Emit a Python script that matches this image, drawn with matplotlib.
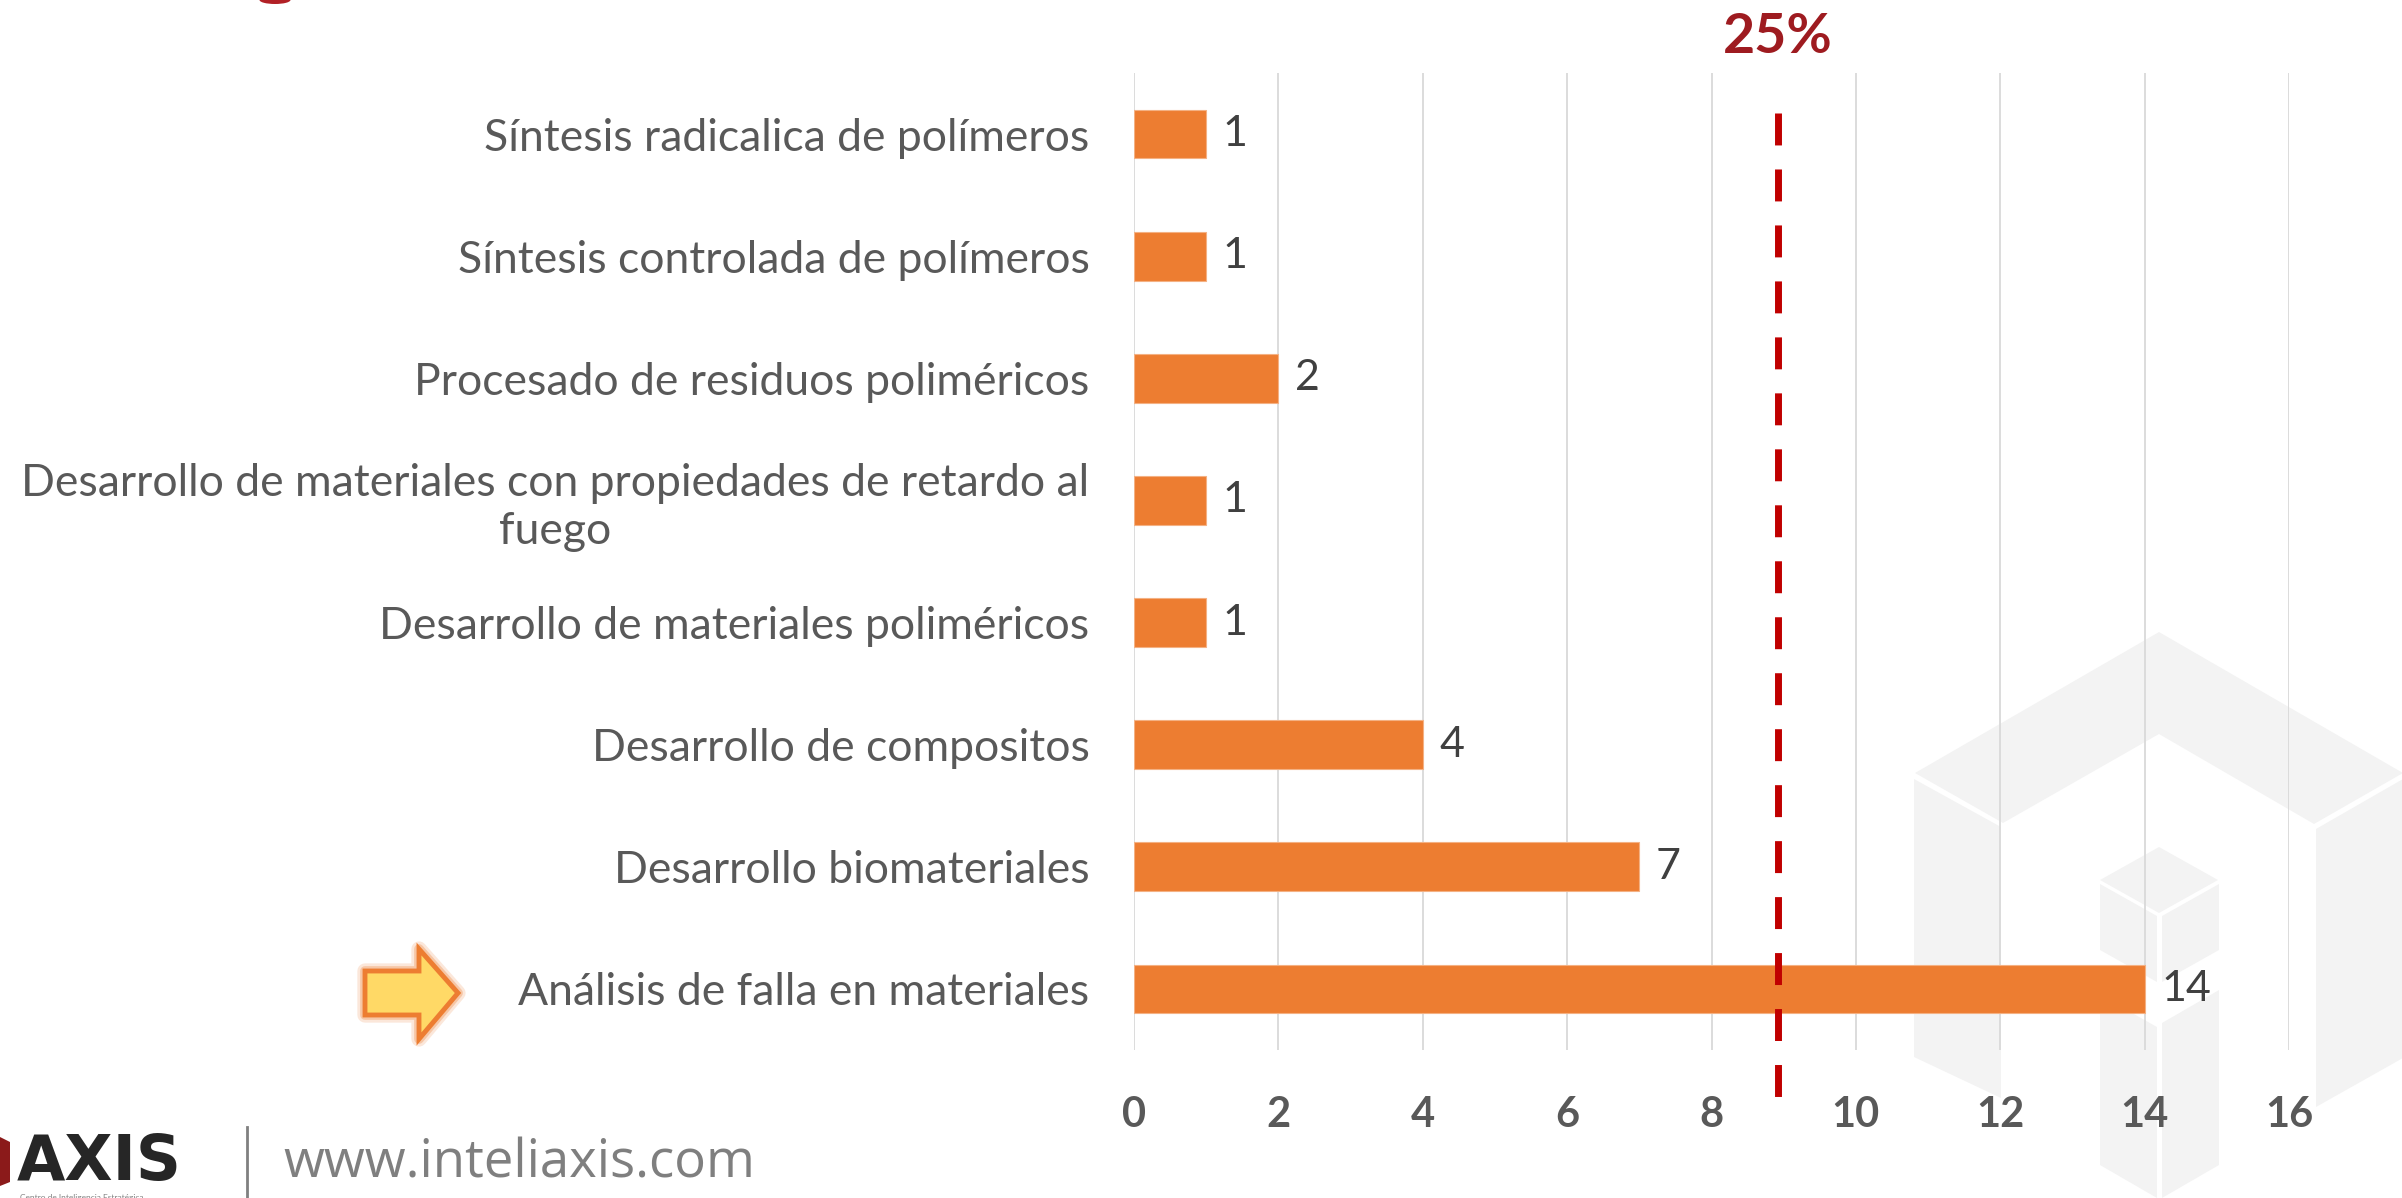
import matplotlib.pyplot as plt
import numpy as np
from matplotlib.patches import Polygon, Ellipse
from matplotlib.transforms import blended_transform_factory
import matplotlib.patheffects as pe

categories = [
    'Síntesis radicalica de polímeros',
    'Síntesis controlada de polímeros',
    'Procesado de residuos poliméricos',
    'Desarrollo de materiales con propiedades de retardo al\nfuego',
    'Desarrollo de materiales poliméricos',
    'Desarrollo de compositos',
    'Desarrollo biomateriales',
    'Análisis de falla en materiales',
]
values = [1, 1, 2, 1, 1, 4, 7, 14]
x_ticks = [0, 2, 4, 6, 8, 10, 12, 14, 16]
ref_value = 8.92
ref_label = '25%'

W, H = 2402, 1198
fig = plt.figure(figsize=(W / 100, H / 100), dpi=100)
fig.patch.set_facecolor('white')


def fpt(x, y):
    # pixel position (y from top) -> figure fraction
    return (x / W, 1 - y / H)


def fig_poly(pts, **kw):
    p = Polygon([fpt(x, y) for x, y in pts], closed=True,
                transform=fig.transFigure, **kw)
    fig.add_artist(p)
    return p


# faint watermark cubes, bottom right
wm = '#F3F3F3'
faces = [
    [(1915, 773), (2159, 632), (2403, 773), (2314, 824), (2159, 734), (2003, 823)],
    [(1914, 779), (2001, 827), (2001, 1098), (1914, 1057)],
    [(2316, 829), (2403, 779), (2403, 1058), (2316, 1107)],
    [(2100, 880), (2159, 847), (2218, 880), (2159, 913)],
    [(2100, 884), (2157, 916), (2157, 982), (2100, 950)],
    [(2162, 916), (2219, 884), (2219, 950), (2162, 982)],
    [(2100, 995), (2157, 1027), (2157, 1198), (2100, 1165)],
    [(2162, 1023), (2219, 990), (2219, 1165), (2162, 1198)],
]
for f in faces:
    fig_poly(f, facecolor=wm, edgecolor='none', zorder=-2)

ax = fig.add_axes([1134 / W, 1 - 1050 / H, (2289 - 1134) / W, (1050 - 73) / H])
ax.set_facecolor('none')

y = np.arange(len(categories))
ax.barh(y, values, height=0.4, color='#ED7D31', edgecolor='#F4B183', linewidth=0.8, zorder=3)
ax.set_ylim(len(categories) - 0.5, -0.5)
ax.set_xlim(0, 16)

for yi, v in zip(y, values):
    ax.annotate(str(v), (v, yi), xytext=(12, 0), textcoords='offset points',
                va='center', ha='left', fontsize=31, color='#404040',
                family='Lato', zorder=4)

ax.set_xticks(x_ticks)
ax.set_xticklabels([str(t) for t in x_ticks], fontsize=30, fontweight='bold',
                   color='#595959', family='Lato')
ax.set_yticks(y)
ax.set_yticklabels(categories, fontsize=32, color='#595959', family='Lato')
for lab in ax.get_yticklabels():
    lab.set_multialignment('center')
ax.tick_params(axis='x', length=0, pad=33)
ax.tick_params(axis='y', length=0, pad=32)
ax.grid(axis='x', color='#D9D9D9', linewidth=1.3, zorder=0)
for s in ax.spines.values():
    s.set_visible(False)

# 25% reference line
tr = blended_transform_factory(ax.transData, ax.transAxes)
ax.plot([ref_value, ref_value], [0.959, -0.048], transform=tr, clip_on=False,
        color='#C00000', linewidth=5, dashes=(4.6, 3.46), solid_capstyle='butt',
        dash_capstyle='butt', zorder=5)
ax.text(ref_value, 1.037, ref_label, transform=tr, ha='center', va='center',
        fontsize=40, fontweight='bold', color='#9E1B20', family='Lato')

# highlight arrow next to the last category
arrow = fig_poly([(365, 971), (419, 971), (419, 949), (458, 993), (419, 1039), (419, 1015), (365, 1015)],
                 facecolor='#FFD966', edgecolor='#ED7D31', linewidth=3.5, zorder=6,
                 joinstyle='miter')
arrow.set_path_effects([
    pe.Stroke(linewidth=11, foreground='#F8CBAD', alpha=0.45, joinstyle='round'),
    pe.Stroke(linewidth=7, foreground='#F4B183', alpha=0.6, joinstyle='round'),
    pe.Normal(),
])

# logo, bottom left
fig_poly([(0, 1137), (10, 1142), (10, 1182), (0, 1186)], facecolor='#8B1A1A', edgecolor='none', zorder=6)
fig.text(*fpt(17, 1180), 'AXIS', ha='left', va='baseline', fontsize=45,
         fontweight='bold', color='#262626', family='DejaVu Sans')
fig.text(*fpt(20, 1194), 'Centro de Inteligencia Estratégica', ha='left', va='top',
         fontsize=6, color='#808080', family='Lato')
fig.add_artist(plt.Line2D([247 / W, 247 / W], [1 - 1127 / H, 0], transform=fig.transFigure,
                          color='#808080', linewidth=2))
fig.text(*fpt(283, 1178), 'www.inteliaxis.com', ha='left', va='baseline', fontsize=38,
         color='#7F7F7F', family='Open Sans')

# small red fragment at top-left edge
fig.add_artist(Ellipse(fpt(275, 0), 31 / W, 8 / H, transform=fig.transFigure,
                       facecolor='#B22026', edgecolor='none'))

fig.savefig('out.png', dpi=100)
